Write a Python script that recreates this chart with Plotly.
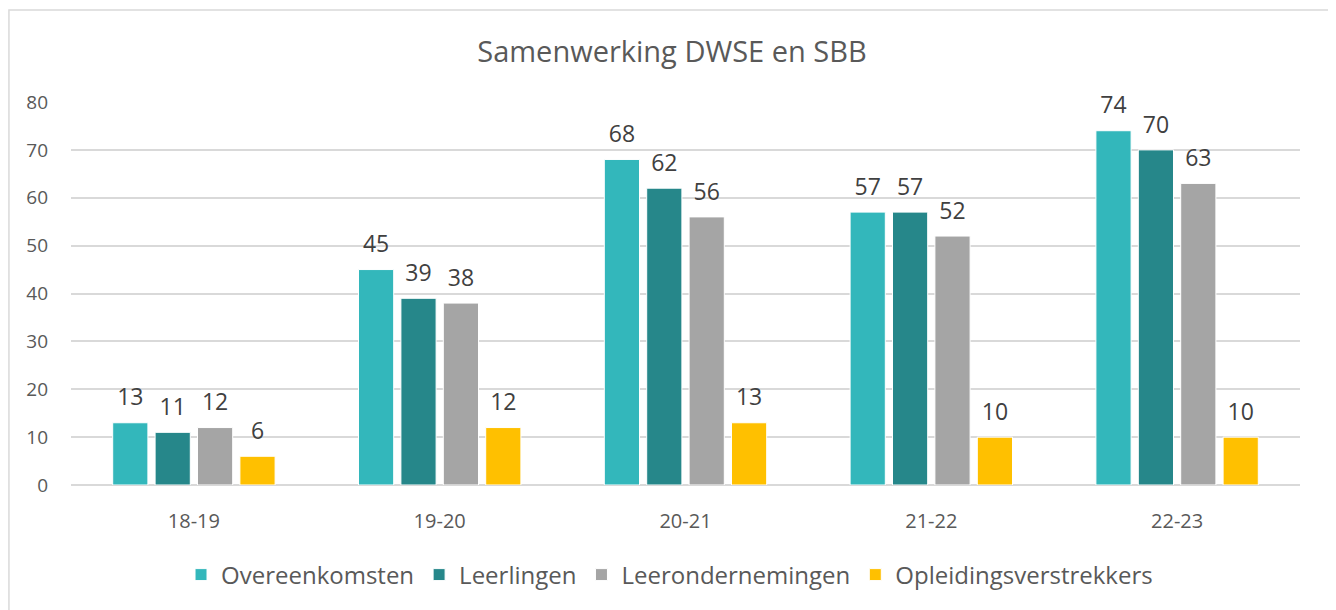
import plotly.graph_objects as go

# chart data
years = ["18-19", "19-20", "20-21", "21-22", "22-23"]
overeenkomsten = [13, 45, 68, 57, 74]
leerlingen = [11, 39, 62, 57, 70]
leerondernemingen = [12, 38, 56, 52, 63]
opleidingsverstrekkers = [6, 12, 13, 10, 10]

series = [
    ("Overeenkomsten", overeenkomsten, "#33B7BB"),
    ("Leerlingen", leerlingen, "#26878A"),
    ("Leerondernemingen", leerondernemingen, "#A5A5A5"),
    ("Opleidingsverstrekkers", opleidingsverstrekkers, "#FFC000"),
]

fig = go.Figure()
for name, vals, col in series:
    fig.add_trace(go.Bar(
        x=years, y=vals, name=name, offsetgroup=name,
        marker=dict(color=col, line=dict(color="white", width=1)),
    ))
# value labels: invisible grouped markers so the label sits a bit higher than bar text
for name, vals, col in series:
    fig.add_trace(go.Scatter(
        x=years, y=vals, mode="markers+text", offsetgroup=name,
        text=[str(v) for v in vals], textposition="top center",
        marker=dict(size=17, color="rgba(0,0,0,0)"),
        textfont=dict(size=23, color="#404040"),
        showlegend=False, hoverinfo="skip", cliponaxis=False,
    ))

# page body has an 8px margin, so the figure is a bit smaller than the window
fig.update_layout(
    width=1328, height=602,
    template="plotly_white",
    font=dict(family="Open Sans", color="#595959"),
    title=dict(text="Samenwerking DWSE en SBB", x=0.5, xanchor="center",
               y=0.927, yanchor="middle",
               font=dict(size=29, color="#595959")),
    barmode="group", bargap=0.31, bargroupgap=0.17,
    scattermode="group", scattergap=0.31,
    margin=dict(l=63, r=36, t=94, b=125),
    plot_bgcolor="white", paper_bgcolor="white",
    showlegend=True,
    legend=dict(orientation="h", x=0.487, xanchor="center", y=-0.235,
                yanchor="middle", font=dict(size=24, color="#595959"),
                itemwidth=30, traceorder="normal"),
)
fig.update_yaxes(range=[0, 80], dtick=10, gridcolor="#D9D9D9", gridwidth=1.5,
                 zeroline=True, zerolinecolor="#D9D9D9", zerolinewidth=1.5,
                 tickfont=dict(size=19, color="#595959"), ticklabelstandoff=22)
fig.update_xaxes(tickfont=dict(size=20, color="#595959"), ticklabelstandoff=22,
                 showline=False)

# outer chart frame
fig.add_shape(type="rect", xref="paper", yref="paper",
              x0=-0.0505, x1=1.0244, y0=-0.34, y1=1.240,
              line=dict(color="#D9D9D9", width=1.5), fillcolor="rgba(0,0,0,0)")

fig.write_html("out.html")
